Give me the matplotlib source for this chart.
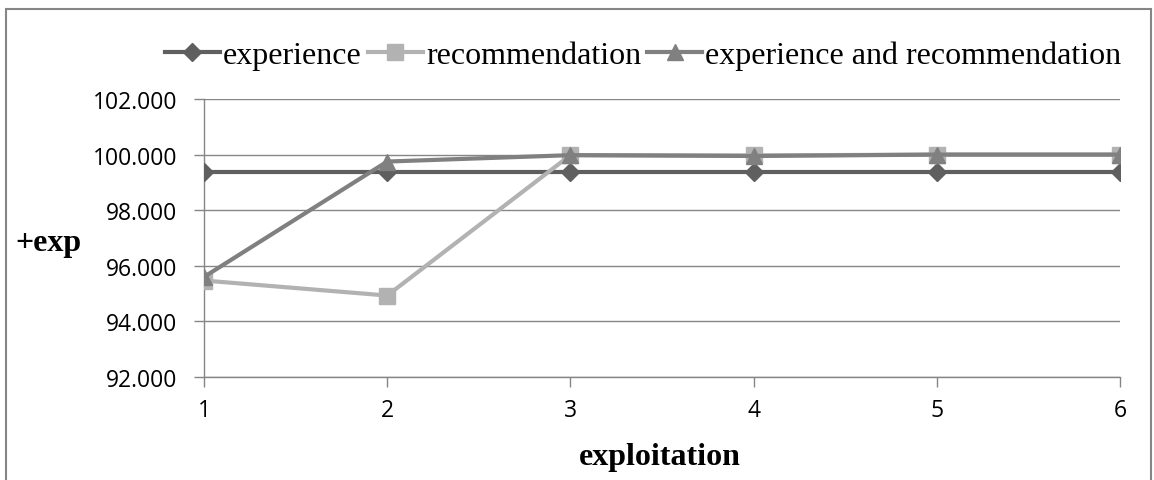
import matplotlib
matplotlib.use("Agg")
import matplotlib.pyplot as plt
from matplotlib.patches import Rectangle

# data
exploitation = [1, 2, 3, 4, 5, 6]
experience = [99.36, 99.36, 99.36, 99.36, 99.36, 99.36]
recommendation = [95.47, 94.93, 99.98, 99.97, 100.0, 100.0]
exp_and_rec = [95.6, 99.75, 99.98, 99.95, 100.0, 100.0]
y_ticks = [92, 94, 96, 98, 100, 102]

plt.rcParams["font.family"] = ["Open Sans", "DejaVu Sans"]

W, H = 1154, 481
fig = plt.figure(figsize=(W / 100, H / 100), dpi=100)
ax = fig.add_axes([204 / W, 1 - 378 / H, (1120 - 204) / W, (378 - 100) / H])

# outer chart frame
fig.patches.append(Rectangle((6 / W, -0.05), (1151 - 6) / W, 1 - 10 / H + 0.05,
                             transform=fig.transFigure, fill=False,
                             edgecolor="#868686", linewidth=1.5))

ax.plot(exploitation, experience, color="#5f5f5f", lw=3, marker="D", ms=9,
        label="experience", zorder=3)
ax.plot(exploitation, recommendation, color="#b2b2b2", lw=3, marker="s", ms=12,
        label="recommendation", zorder=4)
ax.plot(exploitation, exp_and_rec, color="#808080", lw=3, marker="^", ms=12,
        label="experience and recommendation", zorder=5)

ax.set_xlim(1, 6)
ax.set_ylim(92, 102)
ax.set_yticks(y_ticks, labels=[f"{v:.3f}" for v in y_ticks], fontsize=16.5)
ax.set_xticks(exploitation, labels=[str(v) for v in exploitation], fontsize=16.5)
ax.grid(axis="y", color="#868686", lw=1)
ax.set_axisbelow(True)
for s in ["top", "right"]:
    ax.spines[s].set_visible(False)
for s in ["left", "bottom"]:
    ax.spines[s].set_color("#868686")
    ax.spines[s].set_linewidth(1)
ax.tick_params(axis="both", direction="out", color="#868686", length=7, width=1)
ax.tick_params(axis="x", pad=8)
ax.tick_params(axis="y", pad=12)

fig.text(15 / W, 1 - 243 / H, "+exp", fontsize=23, fontweight="bold",
         family="Liberation Serif", va="center", ha="left")
fig.text(660 / W, 1 - 458 / H, "exploitation", fontsize=23, fontweight="bold",
         family="Liberation Serif", va="center", ha="center")

fig.legend(loc="center left", bbox_to_anchor=(165 / W, 1 - 56 / H), ncol=3,
           frameon=False, prop={"family": "Liberation Serif", "size": 23},
           handlelength=1.72, handletextpad=0.1, columnspacing=0.19,
           borderpad=0, borderaxespad=0)

fig.savefig("out.png", dpi=100)
